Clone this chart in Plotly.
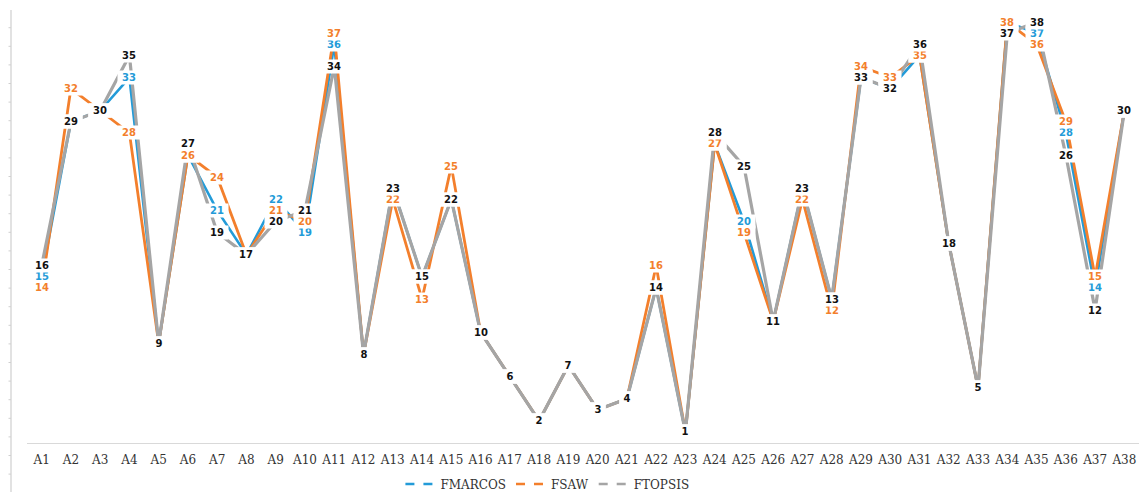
import plotly.graph_objects as go

# Alternatives and their ranks under each method
alternatives = [f"A{i}" for i in range(1, 39)]

fmarcos = [15, 29, 30, 33, 9, 26, 21, 17, 22, 19, 36, 8, 23, 15, 22, 10, 6, 2, 7, 3,
           4, 14, 1, 27, 20, 11, 23, 13, 33, 32, 35, 18, 5, 38, 37, 28, 14, 30]
fsaw = [14, 32, 30, 28, 9, 26, 24, 17, 21, 20, 37, 8, 22, 13, 25, 10, 6, 2, 7, 3,
        4, 16, 1, 27, 19, 11, 22, 12, 34, 33, 35, 18, 5, 38, 36, 29, 15, 30]
ftopsis = [16, 29, 30, 35, 9, 27, 19, 17, 20, 21, 34, 8, 23, 15, 22, 10, 6, 2, 7, 3,
           4, 14, 1, 28, 25, 11, 23, 13, 33, 32, 36, 18, 5, 37, 38, 26, 12, 30]

series = [
    ("FMARCOS", fmarcos, "#239BD8", "#239BD8", 2.6),
    ("FSAW", fsaw, "#F37F2C", "#F37F2C", 2.8),
    ("FTOPSIS", ftopsis, "#A5A5A5", "#111111", 3.2),
]

fig = go.Figure()

# Data lines (drawn in series order, FTOPSIS on top)
for name, vals, color, _, width in series:
    fig.add_trace(go.Scatter(
        x=alternatives, y=vals, mode="lines", name=name,
        line=dict(color=color, width=width),
        showlegend=False, hoverinfo="x+y+name",
    ))

# Legend entries with dashed swatches
for name, _, color, _, width in series:
    fig.add_trace(go.Scatter(
        x=[None], y=[None], mode="lines", name=name,
        line=dict(color=color, width=2.4, dash="dash"),
    ))

# Value labels with white boxes centred on each point
annotations = []
for name, vals, _, tcolor, _ in series:
    for a, v in zip(alternatives, vals):
        txt = str(v)
        annotations.append(dict(
            x=a, y=v, xref="x", yref="y", text=txt, showarrow=False,
            font=dict(family="DejaVu Sans", size=10, color=tcolor, weight="bold"),
            bgcolor="white", borderpad=0, xanchor="center", yanchor="middle",
            width=8 * len(txt) + 6, height=13, align="center", valign="middle",
        ))

# Thin vertical rule with small ticks at the left edge
plot_w = 1112.0
plot_h = 443.0
def px_x(px):
    return (px - 27.0) / plot_w
def px_y(py):
    return (443.0 - py) / plot_h

shapes = [dict(type="line", xref="paper", yref="paper",
               x0=px_x(11), x1=px_x(11), y0=px_y(10), y1=px_y(492),
               line=dict(color="#E2E2E2", width=2))]
for k in range(25):
    ty = 27.7 + k * 18.6
    shapes.append(dict(type="line", xref="paper", yref="paper",
                       x0=px_x(8.5), x1=px_x(11), y0=px_y(ty), y1=px_y(ty),
                       line=dict(color="#D0D0D0", width=1)))

fig.update_layout(
    width=1143, height=492,
    margin=dict(l=27, r=4, t=0, b=49, autoexpand=False),
    paper_bgcolor="white", plot_bgcolor="white",
    annotations=annotations, shapes=shapes,
    xaxis=dict(
        type="category", categoryorder="array", categoryarray=alternatives,
        range=[-0.5, 37.5], showgrid=False, zeroline=False,
        showline=True, linecolor="#D9D9D9", linewidth=1,
        ticks="", ticklabelstandoff=6,
        tickfont=dict(family="DejaVu Serif", size=12, color="#333333"),
    ),
    yaxis=dict(range=[0, 40], visible=False, showgrid=False, zeroline=False),
    legend=dict(
        orientation="h", x=0.468, xanchor="center", y=-0.0925, yanchor="middle",
        font=dict(family="DejaVu Serif", size=12, color="#333333"),
        itemwidth=30, bgcolor="rgba(0,0,0,0)",
    ),
    showlegend=True,
)

fig.write_html("out.html")
